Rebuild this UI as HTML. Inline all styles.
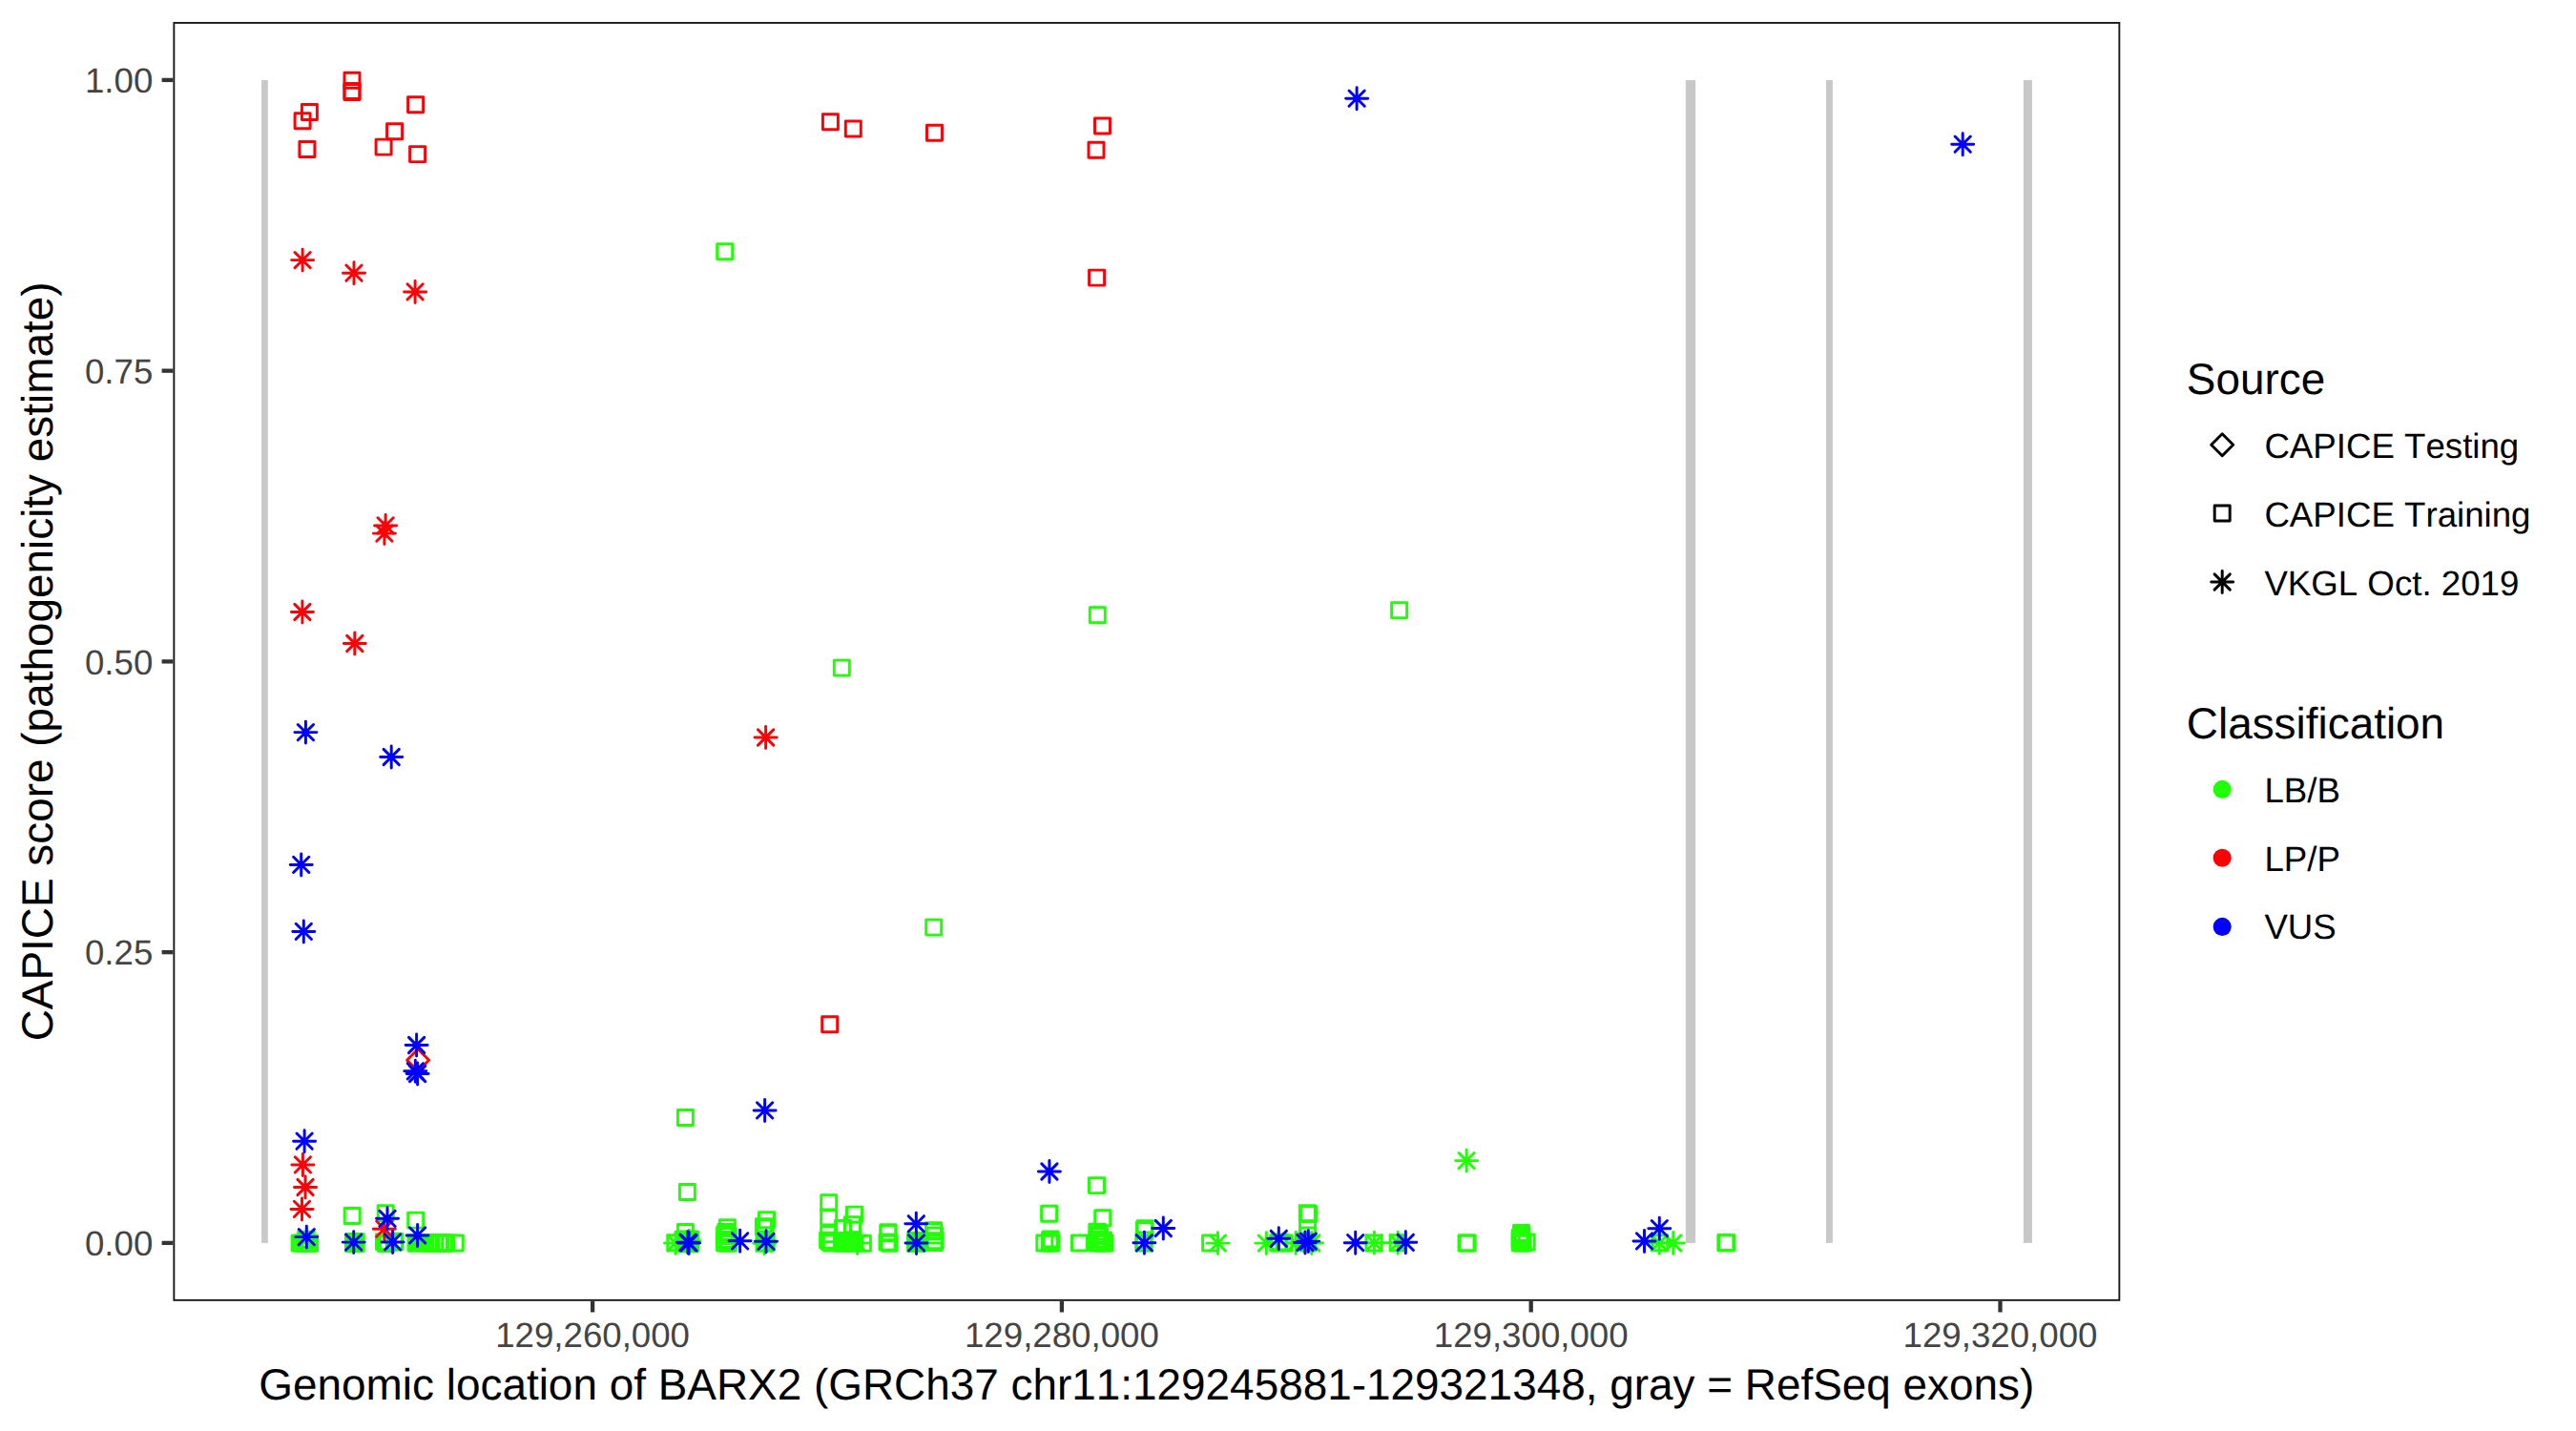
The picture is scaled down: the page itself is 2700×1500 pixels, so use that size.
<!DOCTYPE html>
<html lang="en"><head><meta charset="utf-8"><title>CAPICE score BARX2</title>
<style>
html,body{margin:0;padding:0;background:#fff;}
body{width:2700px;height:1500px;overflow:hidden;}
svg{display:block;font-family:"Liberation Sans",Arial,Helvetica,sans-serif;font-kerning:none;text-rendering:geometricPrecision;}
.pt{fill:none;stroke-width:2.95;stroke-linecap:round;stroke-linejoin:round;}
.ax{font-size:36.67px;fill:#444;}
.tt{font-size:45.9px;fill:#000;}
.lg{font-size:36.67px;fill:#000;}
</style></head><body>
<svg width="2700" height="1500" viewBox="0 0 2700 1500">
<rect x="0" y="0" width="2700" height="1500" fill="#fff"/>

<g fill="#C8C8C8">
<rect x="274.1" y="83.9" width="6.7" height="1219"/>
<rect x="1766.8" y="83.9" width="10.3" height="1219"/>
<rect x="1914" y="83.9" width="6.9" height="1219"/>
<rect x="2120.9" y="83.9" width="9" height="1219"/>
</g>
<g class="pt">
<rect x="751.7" y="255.7" width="16" height="16" stroke="#21FF06"/>
<rect x="874.3" y="692.1" width="16" height="16" stroke="#21FF06"/>
<rect x="1142.3" y="636.7" width="16" height="16" stroke="#21FF06"/>
<rect x="1458.6" y="631.6" width="16" height="16" stroke="#21FF06"/>
<rect x="970.7" y="964.1" width="16" height="16" stroke="#21FF06"/>
<rect x="710.4" y="1163.5" width="16" height="16" stroke="#21FF06"/>
<rect x="712.4" y="1241.5" width="16" height="16" stroke="#21FF06"/>
<rect x="1141.5" y="1234.6" width="16" height="16" stroke="#21FF06"/>
<rect x="1091.6" y="1264.2" width="16" height="16" stroke="#21FF06"/>
<rect x="1147.7" y="1268.7" width="16" height="16" stroke="#21FF06"/>
<rect x="361.2" y="1266.4" width="16" height="16" stroke="#21FF06"/>
<rect x="396.2" y="1263.6" width="16" height="16" stroke="#21FF06"/>
<rect x="427.7" y="1271.1" width="16" height="16" stroke="#21FF06"/>
<rect x="306.1" y="1295.1" width="16" height="16" stroke="#21FF06"/>
<rect x="308.3" y="1294.9" width="16" height="16" stroke="#21FF06"/>
<rect x="311.3" y="1295.2" width="16" height="16" stroke="#21FF06"/>
<rect x="315.6" y="1294.9" width="16" height="16" stroke="#21FF06"/>
<rect x="316.6" y="1295.2" width="16" height="16" stroke="#21FF06"/>
<rect x="312.6" y="1291.3" width="16" height="16" stroke="#21FF06"/>
<rect x="362.6" y="1293.6" width="16" height="16" stroke="#21FF06"/>
<rect x="363.5" y="1294.9" width="16" height="16" stroke="#21FF06"/>
<rect x="364.9" y="1294.9" width="16" height="16" stroke="#21FF06"/>
<rect x="363.8" y="1294.2" width="16" height="16" stroke="#21FF06"/>
<rect x="394.4" y="1293.6" width="16" height="16" stroke="#21FF06"/>
<rect x="396.5" y="1295.6" width="16" height="16" stroke="#21FF06"/>
<rect x="398.6" y="1294.5" width="16" height="16" stroke="#21FF06"/>
<rect x="405.2" y="1293.3" width="16" height="16" stroke="#21FF06"/>
<rect x="405.7" y="1293.9" width="16" height="16" stroke="#21FF06"/>
<rect x="428.2" y="1294.9" width="16" height="16" stroke="#21FF06"/>
<rect x="441.6" y="1294.9" width="16" height="16" stroke="#21FF06"/>
<rect x="443.4" y="1294.9" width="16" height="16" stroke="#21FF06"/>
<rect x="447.7" y="1294.9" width="16" height="16" stroke="#21FF06"/>
<rect x="452.5" y="1294.9" width="16" height="16" stroke="#21FF06"/>
<rect x="453.7" y="1294.9" width="16" height="16" stroke="#21FF06"/>
<rect x="457.5" y="1294.9" width="16" height="16" stroke="#21FF06"/>
<rect x="459.6" y="1294.9" width="16" height="16" stroke="#21FF06"/>
<rect x="469.3" y="1294.9" width="16" height="16" stroke="#21FF06"/>
<rect x="699.8" y="1294.7" width="16" height="16" stroke="#21FF06"/>
<rect x="708.7" y="1291.1" width="16" height="16" stroke="#21FF06"/>
<rect x="710.4" y="1283.55" width="16" height="16" stroke="#21FF06"/>
<rect x="711" y="1294.9" width="16" height="16" stroke="#21FF06"/>
<rect x="712.5" y="1294.9" width="16" height="16" stroke="#21FF06"/>
<rect x="715.2" y="1294.9" width="16" height="16" stroke="#21FF06"/>
<rect x="713" y="1292" width="16" height="16" stroke="#21FF06"/>
<rect x="715.2" y="1291.5" width="16" height="16" stroke="#21FF06"/>
<rect x="754.4" y="1278.7" width="16" height="16" stroke="#21FF06"/>
<rect x="752.8" y="1283.55" width="16" height="16" stroke="#21FF06"/>
<rect x="751.6" y="1286.5" width="16" height="16" stroke="#21FF06"/>
<rect x="755.2" y="1287.4" width="16" height="16" stroke="#21FF06"/>
<rect x="751.6" y="1291.5" width="16" height="16" stroke="#21FF06"/>
<rect x="755.2" y="1292.6" width="16" height="16" stroke="#21FF06"/>
<rect x="751.6" y="1294.9" width="16" height="16" stroke="#21FF06"/>
<rect x="755.2" y="1295.2" width="16" height="16" stroke="#21FF06"/>
<rect x="795.5" y="1270.7" width="16" height="16" stroke="#21FF06"/>
<rect x="792.4" y="1277.8" width="16" height="16" stroke="#21FF06"/>
<rect x="794" y="1279" width="16" height="16" stroke="#21FF06"/>
<rect x="793" y="1294.9" width="16" height="16" stroke="#21FF06"/>
<rect x="795.2" y="1294.9" width="16" height="16" stroke="#21FF06"/>
<rect x="793.5" y="1291" width="16" height="16" stroke="#21FF06"/>
<rect x="860.7" y="1252.8" width="16" height="16" stroke="#21FF06"/>
<rect x="860.7" y="1268" width="16" height="16" stroke="#21FF06"/>
<rect x="860.7" y="1285.7" width="16" height="16" stroke="#21FF06"/>
<rect x="859.6" y="1292.1" width="16" height="16" stroke="#21FF06"/>
<rect x="861.5" y="1293.5" width="16" height="16" stroke="#21FF06"/>
<rect x="863.4" y="1294.9" width="16" height="16" stroke="#21FF06"/>
<rect x="887.5" y="1265.1" width="16" height="16" stroke="#21FF06"/>
<rect x="885.5" y="1275.6" width="16" height="16" stroke="#21FF06"/>
<rect x="875.5" y="1279.5" width="16" height="16" stroke="#21FF06"/>
<rect x="885.4" y="1281.1" width="16" height="16" stroke="#21FF06"/>
<rect x="874.3" y="1294.9" width="16" height="16" stroke="#21FF06"/>
<rect x="875.5" y="1293.75" width="16" height="16" stroke="#21FF06"/>
<rect x="876.8" y="1292.6" width="16" height="16" stroke="#21FF06"/>
<rect x="878" y="1294.9" width="16" height="16" stroke="#21FF06"/>
<rect x="879.3" y="1293.75" width="16" height="16" stroke="#21FF06"/>
<rect x="880.6" y="1292.6" width="16" height="16" stroke="#21FF06"/>
<rect x="881.5" y="1294.9" width="16" height="16" stroke="#21FF06"/>
<rect x="884.3" y="1293.75" width="16" height="16" stroke="#21FF06"/>
<rect x="885.4" y="1292.6" width="16" height="16" stroke="#21FF06"/>
<rect x="887.5" y="1294.9" width="16" height="16" stroke="#21FF06"/>
<rect x="896.4" y="1295.2" width="16" height="16" stroke="#21FF06"/>
<rect x="923" y="1283.7" width="16" height="16" stroke="#21FF06"/>
<rect x="922.9" y="1284.8" width="16" height="16" stroke="#21FF06"/>
<rect x="922" y="1294.1" width="16" height="16" stroke="#21FF06"/>
<rect x="924.2" y="1295.3" width="16" height="16" stroke="#21FF06"/>
<rect x="952" y="1294.9" width="16" height="16" stroke="#21FF06"/>
<rect x="951.8" y="1292.7" width="16" height="16" stroke="#21FF06"/>
<rect x="970.55" y="1281.75" width="16" height="16" stroke="#21FF06"/>
<rect x="970.6" y="1282.8" width="16" height="16" stroke="#21FF06"/>
<rect x="971.4" y="1287" width="16" height="16" stroke="#21FF06"/>
<rect x="972.2" y="1292.7" width="16" height="16" stroke="#21FF06"/>
<rect x="971" y="1294.4" width="16" height="16" stroke="#21FF06"/>
<rect x="1086.8" y="1294.9" width="16" height="16" stroke="#21FF06"/>
<rect x="1093.1" y="1290.9" width="16" height="16" stroke="#21FF06"/>
<rect x="1092.5" y="1292.3" width="16" height="16" stroke="#21FF06"/>
<rect x="1093.1" y="1293.6" width="16" height="16" stroke="#21FF06"/>
<rect x="1092.2" y="1294.9" width="16" height="16" stroke="#21FF06"/>
<rect x="1094" y="1294.9" width="16" height="16" stroke="#21FF06"/>
<rect x="1123.5" y="1294.9" width="16" height="16" stroke="#21FF06"/>
<rect x="1141.8" y="1283.1" width="16" height="16" stroke="#21FF06"/>
<rect x="1144.5" y="1288" width="16" height="16" stroke="#21FF06"/>
<rect x="1142" y="1291.5" width="16" height="16" stroke="#21FF06"/>
<rect x="1142" y="1294.9" width="16" height="16" stroke="#21FF06"/>
<rect x="1147" y="1294.9" width="16" height="16" stroke="#21FF06"/>
<rect x="1150" y="1294.9" width="16" height="16" stroke="#21FF06"/>
<rect x="1145" y="1293" width="16" height="16" stroke="#21FF06"/>
<rect x="1143.5" y="1286" width="16" height="16" stroke="#21FF06"/>
<rect x="1148.5" y="1292" width="16" height="16" stroke="#21FF06"/>
<rect x="1192.1" y="1279.7" width="16" height="16" stroke="#21FF06"/>
<rect x="1190.9" y="1294.9" width="16" height="16" stroke="#21FF06"/>
<rect x="1191" y="1292" width="16" height="16" stroke="#21FF06"/>
<rect x="1191.5" y="1281.5" width="16" height="16" stroke="#21FF06"/>
<rect x="1260.6" y="1294.9" width="16" height="16" stroke="#21FF06"/>
<rect x="1331.8" y="1294.9" width="16" height="16" stroke="#21FF06"/>
<rect x="1333" y="1294" width="16" height="16" stroke="#21FF06"/>
<rect x="1338" y="1294.9" width="16" height="16" stroke="#21FF06"/>
<rect x="1362.3" y="1263.8" width="16" height="16" stroke="#21FF06"/>
<rect x="1363.5" y="1264.5" width="16" height="16" stroke="#21FF06"/>
<rect x="1362.5" y="1280.1" width="16" height="16" stroke="#21FF06"/>
<rect x="1362.8" y="1287" width="16" height="16" stroke="#21FF06"/>
<rect x="1362.8" y="1294.9" width="16" height="16" stroke="#21FF06"/>
<rect x="1361" y="1293" width="16" height="16" stroke="#21FF06"/>
<rect x="1431.9" y="1294.9" width="16" height="16" stroke="#21FF06"/>
<rect x="1457.2" y="1294.8" width="16" height="16" stroke="#21FF06"/>
<rect x="1529" y="1294.9" width="16" height="16" stroke="#21FF06"/>
<rect x="1530.2" y="1294.9" width="16" height="16" stroke="#21FF06"/>
<rect x="1586.5" y="1284.5" width="16" height="16" stroke="#21FF06"/>
<rect x="1585.5" y="1289" width="16" height="16" stroke="#21FF06"/>
<rect x="1585" y="1292" width="16" height="16" stroke="#21FF06"/>
<rect x="1585.5" y="1294.9" width="16" height="16" stroke="#21FF06"/>
<rect x="1588" y="1294.9" width="16" height="16" stroke="#21FF06"/>
<rect x="1592.2" y="1294" width="16" height="16" stroke="#21FF06"/>
<rect x="1587" y="1287" width="16" height="16" stroke="#21FF06"/>
<rect x="1586" y="1291" width="16" height="16" stroke="#21FF06"/>
<rect x="1731.8" y="1294.8" width="16" height="16" stroke="#21FF06"/>
<rect x="1800.8" y="1294.8" width="16" height="16" stroke="#21FF06"/>
<rect x="1801.6" y="1294.8" width="16" height="16" stroke="#21FF06"/>
<rect x="361.1" y="1292.1" width="21.45" height="20.8" rx="1.5" fill="#21FF06" stroke="none"/>
<rect x="426.7" y="1293.4" width="28.4" height="19" rx="1.5" fill="#21FF06" stroke="none"/>
<rect x="709" y="1289.5" width="23.8" height="23.7" rx="1.5" fill="#21FF06" stroke="none"/>
<rect x="950.3" y="1291.2" width="20.7" height="21.6" rx="1.5" fill="#21FF06" stroke="none"/>
<rect x="361" y="76.3" width="16" height="16" stroke="#FB0207"/>
<rect x="361" y="87.5" width="16" height="16" stroke="#FB0207"/>
<rect x="361" y="88.6" width="16" height="16" stroke="#FB0207"/>
<rect x="316.4" y="109.5" width="16" height="16" stroke="#FB0207"/>
<rect x="309.1" y="118.8" width="16" height="16" stroke="#FB0207"/>
<rect x="313.9" y="148.5" width="16" height="16" stroke="#FB0207"/>
<rect x="427.6" y="101.7" width="16" height="16" stroke="#FB0207"/>
<rect x="405.6" y="129.7" width="16" height="16" stroke="#FB0207"/>
<rect x="394.1" y="146.1" width="16" height="16" stroke="#FB0207"/>
<rect x="429.6" y="153.6" width="16" height="16" stroke="#FB0207"/>
<rect x="862.4" y="119.7" width="16" height="16" stroke="#FB0207"/>
<rect x="886.3" y="126.9" width="16" height="16" stroke="#FB0207"/>
<rect x="971.5" y="131.2" width="16" height="16" stroke="#FB0207"/>
<rect x="1147.5" y="124" width="16" height="16" stroke="#FB0207"/>
<rect x="1141" y="149.2" width="16" height="16" stroke="#FB0207"/>
<rect x="1141.6" y="283.1" width="16" height="16" stroke="#FB0207"/>
<rect x="861.7" y="1065.7" width="16" height="16" stroke="#FB0207"/>
<path d="M426.6 1111.2L438.1 1099.7L449.6 1111.2L438.1 1122.7Z" stroke="#FB0207"/>
<path d="M696.5 1303h23M708 1291.5v23M699.87 1294.87l16.26 16.26M699.87 1311.13l16.26 -16.26" stroke="#21FF06"/>
<path d="M789.7 1303.2h23M801.2 1291.7v23M793.07 1295.07l16.26 16.26M793.07 1311.33l16.26 -16.26" stroke="#21FF06"/>
<path d="M887.1 1302.9h23M898.6 1291.4v23M890.47 1294.77l16.26 16.26M890.47 1311.03l16.26 -16.26" stroke="#21FF06"/>
<path d="M1264.9 1303.1h23M1276.4 1291.6v23M1268.27 1294.97l16.26 16.26M1268.27 1311.23l16.26 -16.26" stroke="#21FF06"/>
<path d="M1315.8 1303.1h23M1327.3 1291.6v23M1319.17 1294.97l16.26 16.26M1319.17 1311.23l16.26 -16.26" stroke="#21FF06"/>
<path d="M1346.6 1303h23M1358.1 1291.5v23M1349.97 1294.87l16.26 16.26M1349.97 1311.13l16.26 -16.26" stroke="#21FF06"/>
<path d="M1363.3 1303h23M1374.8 1291.5v23M1366.67 1294.87l16.26 16.26M1366.67 1311.13l16.26 -16.26" stroke="#21FF06"/>
<path d="M1428.9 1302.8h23M1440.4 1291.3v23M1432.27 1294.67l16.26 16.26M1432.27 1310.93l16.26 -16.26" stroke="#21FF06"/>
<path d="M1453.7 1302.8h23M1465.2 1291.3v23M1457.07 1294.67l16.26 16.26M1457.07 1310.93l16.26 -16.26" stroke="#21FF06"/>
<path d="M1525.6 1216.6h23M1537.1 1205.1v23M1528.97 1208.47l16.26 16.26M1528.97 1224.73l16.26 -16.26" stroke="#21FF06"/>
<path d="M1727.7 1302.8h23M1739.2 1291.3v23M1731.07 1294.67l16.26 16.26M1731.07 1310.93l16.26 -16.26" stroke="#21FF06"/>
<path d="M1742.3 1303h23M1753.8 1291.5v23M1745.67 1294.87l16.26 16.26M1745.67 1311.13l16.26 -16.26" stroke="#21FF06"/>
<path d="M309.8 1299.5h23M321.3 1288v23M313.17 1291.37l16.26 16.26M313.17 1307.63l16.26 -16.26" stroke="#21FF06"/>
<path d="M710.8 1300.6h23M722.3 1289.1v23M714.17 1292.47l16.26 16.26M714.17 1308.73l16.26 -16.26" stroke="#21FF06"/>
<path d="M305.6 272.6h23M317.1 261.1v23M308.97 264.47l16.26 16.26M308.97 280.73l16.26 -16.26" stroke="#FB0207"/>
<path d="M359.5 286.2h23M371 274.7v23M362.87 278.07l16.26 16.26M362.87 294.33l16.26 -16.26" stroke="#FB0207"/>
<path d="M423.6 305.9h23M435.1 294.4v23M426.97 297.77l16.26 16.26M426.97 314.03l16.26 -16.26" stroke="#FB0207"/>
<path d="M392.6 550.9h23M404.1 539.4v23M395.97 542.77l16.26 16.26M395.97 559.03l16.26 -16.26" stroke="#FB0207"/>
<path d="M391.4 559.1h23M402.9 547.6v23M394.77 550.97l16.26 16.26M394.77 567.23l16.26 -16.26" stroke="#FB0207"/>
<path d="M305.4 641.5h23M316.9 630v23M308.77 633.37l16.26 16.26M308.77 649.63l16.26 -16.26" stroke="#FB0207"/>
<path d="M360.3 674.5h23M371.8 663v23M363.67 666.37l16.26 16.26M363.67 682.63l16.26 -16.26" stroke="#FB0207"/>
<path d="M791.1 773h23M802.6 761.5v23M794.47 764.87l16.26 16.26M794.47 781.13l16.26 -16.26" stroke="#FB0207"/>
<path d="M305.9 1220.9h23M317.4 1209.4v23M309.27 1212.77l16.26 16.26M309.27 1229.03l16.26 -16.26" stroke="#FB0207"/>
<path d="M308.5 1244.5h23M320 1233v23M311.87 1236.37l16.26 16.26M311.87 1252.63l16.26 -16.26" stroke="#FB0207"/>
<path d="M305 1267.4h23M316.5 1255.9v23M308.37 1259.27l16.26 16.26M308.37 1275.53l16.26 -16.26" stroke="#FB0207"/>
<path d="M391.3 1288.2h23M402.8 1276.7v23M394.67 1280.07l16.26 16.26M394.67 1296.33l16.26 -16.26" stroke="#FB0207"/>
<path d="M1410.6 103.2h23M1422.1 91.7v23M1413.97 95.07l16.26 16.26M1413.97 111.33l16.26 -16.26" stroke="#0000FF"/>
<path d="M2045.7 151.2h23M2057.2 139.7v23M2049.07 143.07l16.26 16.26M2049.07 159.33l16.26 -16.26" stroke="#0000FF"/>
<path d="M308.9 767.6h23M320.4 756.1v23M312.27 759.47l16.26 16.26M312.27 775.73l16.26 -16.26" stroke="#0000FF"/>
<path d="M398.7 793.5h23M410.2 782v23M402.07 785.37l16.26 16.26M402.07 801.63l16.26 -16.26" stroke="#0000FF"/>
<path d="M304.2 906.4h23M315.7 894.9v23M307.57 898.27l16.26 16.26M307.57 914.53l16.26 -16.26" stroke="#0000FF"/>
<path d="M306.8 976.4h23M318.3 964.9v23M310.17 968.27l16.26 16.26M310.17 984.53l16.26 -16.26" stroke="#0000FF"/>
<path d="M425.1 1095.5h23M436.6 1084v23M428.47 1087.37l16.26 16.26M428.47 1103.63l16.26 -16.26" stroke="#0000FF"/>
<path d="M423.8 1122.8h23M435.3 1111.3v23M427.17 1114.67l16.26 16.26M427.17 1130.93l16.26 -16.26" stroke="#0000FF"/>
<path d="M426.1 1125.5h23M437.6 1114v23M429.47 1117.37l16.26 16.26M429.47 1133.63l16.26 -16.26" stroke="#0000FF"/>
<path d="M307.6 1196.2h23M319.1 1184.7v23M310.97 1188.07l16.26 16.26M310.97 1204.33l16.26 -16.26" stroke="#0000FF"/>
<path d="M394.5 1277.3h23M406 1265.8v23M397.87 1269.17l16.26 16.26M397.87 1285.43l16.26 -16.26" stroke="#0000FF"/>
<path d="M309.8 1296.6h23M321.3 1285.1v23M313.17 1288.47l16.26 16.26M313.17 1304.73l16.26 -16.26" stroke="#0000FF"/>
<path d="M359.2 1302.1h23M370.7 1290.6v23M362.57 1293.97l16.26 16.26M362.57 1310.23l16.26 -16.26" stroke="#0000FF"/>
<path d="M400.1 1301.9h23M411.6 1290.4v23M403.47 1293.77l16.26 16.26M403.47 1310.03l16.26 -16.26" stroke="#0000FF"/>
<path d="M426.1 1294.9h23M437.6 1283.4v23M429.47 1286.77l16.26 16.26M429.47 1303.03l16.26 -16.26" stroke="#0000FF"/>
<path d="M790.1 1163.9h23M801.6 1152.4v23M793.47 1155.77l16.26 16.26M793.47 1172.03l16.26 -16.26" stroke="#0000FF"/>
<path d="M709.4 1302.3h23M720.9 1290.8v23M712.77 1294.17l16.26 16.26M712.77 1310.43l16.26 -16.26" stroke="#0000FF"/>
<path d="M710.6 1302.9h23M722.1 1291.4v23M713.97 1294.77l16.26 16.26M713.97 1311.03l16.26 -16.26" stroke="#0000FF"/>
<path d="M764.1 1300.8h23M775.6 1289.3v23M767.47 1292.67l16.26 16.26M767.47 1308.93l16.26 -16.26" stroke="#0000FF"/>
<path d="M791.5 1301.3h23M803 1289.8v23M794.87 1293.17l16.26 16.26M794.87 1309.43l16.26 -16.26" stroke="#0000FF"/>
<path d="M948.8 1282.8h23M960.3 1271.3v23M952.17 1274.67l16.26 16.26M952.17 1290.93l16.26 -16.26" stroke="#0000FF"/>
<path d="M949 1302.9h23M960.5 1291.4v23M952.37 1294.77l16.26 16.26M952.37 1311.03l16.26 -16.26" stroke="#0000FF"/>
<path d="M1088.4 1228h23M1099.9 1216.5v23M1091.77 1219.87l16.26 16.26M1091.77 1236.13l16.26 -16.26" stroke="#0000FF"/>
<path d="M1187.9 1302.8h23M1199.4 1291.3v23M1191.27 1294.67l16.26 16.26M1191.27 1310.93l16.26 -16.26" stroke="#0000FF"/>
<path d="M1207.8 1287.5h23M1219.3 1276v23M1211.17 1279.37l16.26 16.26M1211.17 1295.63l16.26 -16.26" stroke="#0000FF"/>
<path d="M1328.8 1298.3h23M1340.3 1286.8v23M1332.17 1290.17l16.26 16.26M1332.17 1306.43l16.26 -16.26" stroke="#0000FF"/>
<path d="M1359.8 1301.1h23M1371.3 1289.6v23M1363.17 1292.97l16.26 16.26M1363.17 1309.23l16.26 -16.26" stroke="#0000FF"/>
<path d="M1356.4 1302.5h23M1367.9 1291v23M1359.77 1294.37l16.26 16.26M1359.77 1310.63l16.26 -16.26" stroke="#0000FF"/>
<path d="M1409.2 1302.7h23M1420.7 1291.2v23M1412.57 1294.57l16.26 16.26M1412.57 1310.83l16.26 -16.26" stroke="#0000FF"/>
<path d="M1461.8 1302.3h23M1473.3 1290.8v23M1465.17 1294.17l16.26 16.26M1465.17 1310.43l16.26 -16.26" stroke="#0000FF"/>
<path d="M1712 1300.9h23M1723.5 1289.4v23M1715.37 1292.77l16.26 16.26M1715.37 1309.03l16.26 -16.26" stroke="#0000FF"/>
<path d="M1727.8 1287.7h23M1739.3 1276.2v23M1731.17 1279.57l16.26 16.26M1731.17 1295.83l16.26 -16.26" stroke="#0000FF"/>
</g>
<rect x="182.35" y="23.95" width="2039" height="1338.9" fill="none" stroke="#1a1a1a" stroke-width="1.9"/>
<g stroke="#333" stroke-width="4.3">
<line x1="169.6" x2="181.4" y1="1302.9" y2="1302.9"/>
<line x1="169.6" x2="181.4" y1="998.15" y2="998.15"/>
<line x1="169.6" x2="181.4" y1="693.4" y2="693.4"/>
<line x1="169.6" x2="181.4" y1="388.65" y2="388.65"/>
<line x1="169.6" x2="181.4" y1="83.9" y2="83.9"/>
<line x1="621.1" x2="621.1" y1="1363.8" y2="1375.5"/>
<line x1="1112.9" x2="1112.9" y1="1363.8" y2="1375.5"/>
<line x1="1604.7" x2="1604.7" y1="1363.8" y2="1375.5"/>
<line x1="2096.5" x2="2096.5" y1="1363.8" y2="1375.5"/>
</g>
<g class="ax" text-anchor="end">
<text x="160.3" y="1316.1">0.00</text>
<text x="160.3" y="1011.35">0.25</text>
<text x="160.3" y="706.6">0.50</text>
<text x="160.3" y="401.85">0.75</text>
<text x="160.3" y="97.1">1.00</text>
</g>
<g class="ax" text-anchor="middle">
<text x="621.1" y="1412">129,260,000</text>
<text x="1112.9" y="1412">129,280,000</text>
<text x="1604.7" y="1412">129,300,000</text>
<text x="2096.5" y="1412">129,320,000</text>
</g>
<text class="tt" text-anchor="middle" x="1201.85" y="1466.8">Genomic location of BARX2 (GRCh37 chr11:129245881-129321348, gray = RefSeq exons)</text>
<text class="tt" text-anchor="middle" transform="translate(54.9 693.4) rotate(-90)">CAPICE score (pathogenicity estimate)</text>
<text class="tt" x="2291.8" y="412.8">Source</text>
<g class="pt">
<path d="M2317.7 466.3L2329.2 454.8L2340.7 466.3L2329.2 477.8Z" stroke="#000"/>
<rect x="2321.2" y="530" width="16" height="16" stroke="#000"/>
<path d="M2317.7 610h23M2329.2 598.5v23M2321.07 601.87l16.26 16.26M2321.07 618.13l16.26 -16.26" stroke="#000"/>
</g>
<g class="lg"><text x="2373.4" y="480">CAPICE Testing</text><text x="2373.4" y="551.9">CAPICE Training</text><text x="2373.4" y="624">VKGL Oct. 2019</text></g>
<text class="tt" x="2291.8" y="773.7">Classification</text>
<circle cx="2329.2" cy="827.4" r="9.55" fill="#21FF06"/><circle cx="2329.2" cy="899.3" r="9.55" fill="#FB0207"/><circle cx="2329.2" cy="971.4" r="9.55" fill="#0000FF"/>
<g class="lg"><text x="2373.4" y="840.8">LB/B</text><text x="2373.4" y="912.7">LP/P</text><text x="2373.4" y="984.4">VUS</text></g>
</svg></body></html>
